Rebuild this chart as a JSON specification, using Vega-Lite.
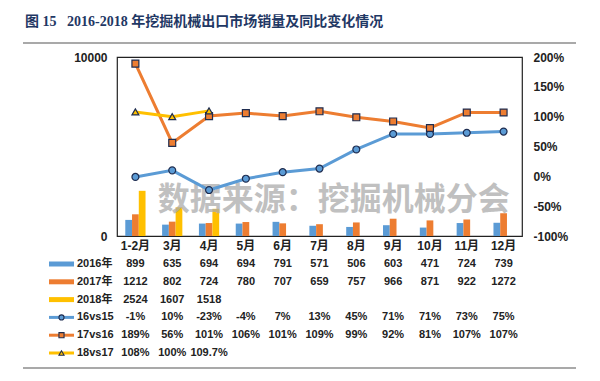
{
  "$schema": "https://vega.github.io/schema/vega-lite/v6.json",
  "width": 405,
  "height": 179,
  "autosize": {"type": "none"},
  "padding": {"left": 117, "top": 57, "right": 78, "bottom": 145},
  "background": "white",
  "title": {
    "text": "图 15\u00a0\u00a0\u00a02016-2018 年挖掘机械出口市场销量及同比变化情况",
    "anchor": "start",
    "frame": "group",
    "dx": -92,
    "offset": 13,
    "font": "Liberation Serif, Noto Sans CJK SC",
    "fontWeight": "bold",
    "fontSize": 14,
    "color": "#1F3864"
  },
  "datasets": {
    "d": [
      {"m": "1-2月", "s": "2016年", "v": 899}, {"m": "3月", "s": "2016年", "v": 635}, {"m": "4月", "s": "2016年", "v": 694},
      {"m": "5月", "s": "2016年", "v": 694}, {"m": "6月", "s": "2016年", "v": 791}, {"m": "7月", "s": "2016年", "v": 571},
      {"m": "8月", "s": "2016年", "v": 506}, {"m": "9月", "s": "2016年", "v": 603}, {"m": "10月", "s": "2016年", "v": 471},
      {"m": "11月", "s": "2016年", "v": 724}, {"m": "12月", "s": "2016年", "v": 739},
      {"m": "1-2月", "s": "2017年", "v": 1212}, {"m": "3月", "s": "2017年", "v": 802}, {"m": "4月", "s": "2017年", "v": 724},
      {"m": "5月", "s": "2017年", "v": 780}, {"m": "6月", "s": "2017年", "v": 707}, {"m": "7月", "s": "2017年", "v": 659},
      {"m": "8月", "s": "2017年", "v": 757}, {"m": "9月", "s": "2017年", "v": 966}, {"m": "10月", "s": "2017年", "v": 871},
      {"m": "11月", "s": "2017年", "v": 922}, {"m": "12月", "s": "2017年", "v": 1272},
      {"m": "1-2月", "s": "2018年", "v": 2524}, {"m": "3月", "s": "2018年", "v": 1607}, {"m": "4月", "s": "2018年", "v": 1518},
      {"m": "1-2月", "s": "16vs15", "v": -0.01}, {"m": "3月", "s": "16vs15", "v": 0.10}, {"m": "4月", "s": "16vs15", "v": -0.23},
      {"m": "5月", "s": "16vs15", "v": -0.04}, {"m": "6月", "s": "16vs15", "v": 0.07}, {"m": "7月", "s": "16vs15", "v": 0.13},
      {"m": "8月", "s": "16vs15", "v": 0.45}, {"m": "9月", "s": "16vs15", "v": 0.71}, {"m": "10月", "s": "16vs15", "v": 0.71},
      {"m": "11月", "s": "16vs15", "v": 0.73}, {"m": "12月", "s": "16vs15", "v": 0.75},
      {"m": "1-2月", "s": "17vs16", "v": 1.89}, {"m": "3月", "s": "17vs16", "v": 0.56}, {"m": "4月", "s": "17vs16", "v": 1.01},
      {"m": "5月", "s": "17vs16", "v": 1.06}, {"m": "6月", "s": "17vs16", "v": 1.01}, {"m": "7月", "s": "17vs16", "v": 1.09},
      {"m": "8月", "s": "17vs16", "v": 0.99}, {"m": "9月", "s": "17vs16", "v": 0.92}, {"m": "10月", "s": "17vs16", "v": 0.81},
      {"m": "11月", "s": "17vs16", "v": 1.07}, {"m": "12月", "s": "17vs16", "v": 1.07},
      {"m": "1-2月", "s": "18vs17", "v": 1.08}, {"m": "3月", "s": "18vs17", "v": 1.00}, {"m": "4月", "s": "18vs17", "v": 1.097}
    ],
    "sym": [
      {"s": "2016年", "kind": "bar"}, {"s": "2017年", "kind": "bar"}, {"s": "2018年", "kind": "bar"},
      {"s": "16vs15", "kind": "line"}, {"s": "17vs16", "kind": "line"}, {"s": "18vs17", "kind": "line"}
    ]
  },
  "config": {
    "view": {"stroke": "#222", "strokeWidth": 1.2},
    "locale": {"number": {"decimal": ".", "thousands": ",", "grouping": [3], "currency": ["$", ""], "minus": "-"}},
    "axis": {
      "labelFont": "Liberation Sans, Noto Sans CJK SC",
      "labelFontWeight": "bold",
      "labelFontSize": 12,
      "labelColor": "#222",
      "grid": false,
      "domain": false,
      "ticks": false,
      "tickSize": 0,
      "title": null
    },
    "text": {"font": "Liberation Sans, Noto Sans CJK SC", "fontWeight": "bold", "fontSize": 11, "fill": "#222"}
  },
  "resolve": {"scale": {"x": "independent", "y": "independent"}},
  "layer": [
    {
      "data": {"values": [{"k": "separator"}]},
      "layer": [
        {
          "mark": {"type": "rule", "stroke": "#555", "strokeWidth": 1.2},
          "encoding": {
            "x": {"datum": 0, "type": "quantitative", "scale": {"domain": [0, 1], "range": [-94, 459], "nice": false, "zero": false}, "axis": null},
            "x2": {"datum": 1},
            "y": {"datum": 0, "type": "quantitative", "scale": {"domain": [0, 1], "range": [-14, 311], "nice": false, "zero": false}, "axis": null}
          }
        },
        {
          "mark": {"type": "rule", "stroke": "#555", "strokeWidth": 1.2},
          "encoding": {
            "x": {"datum": 0, "type": "quantitative"},
            "x2": {"datum": 1},
            "y": {"datum": 1, "type": "quantitative"}
          }
        }
      ]
    },
    {
      "layer": [
        {
          "data": {"name": "d"},
          "transform": [{"filter": {"field": "s", "oneOf": ["2016年", "2017年", "2018年"]}}],
          "mark": {"type": "bar"},
          "encoding": {
            "x": {
              "field": "m", "type": "nominal", "sort": null,
              "scale": {"domain": ["1-2月", "3月", "4月", "5月", "6月", "7月", "8月", "9月", "10月", "11月", "12月"], "paddingInner": 0.45, "paddingOuter": 0.225},
              "axis": {"orient": "bottom", "labelAngle": 0, "labelPadding": 4}
            },
            "xOffset": {"field": "s", "type": "nominal", "scale": {"domain": ["2016年", "2017年", "2018年"], "paddingInner": 0, "paddingOuter": 0}},
            "y": {
              "field": "v", "type": "quantitative",
              "scale": {"domain": [0, 10000], "nice": false},
              "axis": {"orient": "left", "values": [0, 10000], "format": "d", "labelPadding": 10}
            },
            "color": {
              "field": "s", "type": "nominal",
              "scale": {"domain": ["2016年", "2017年", "2018年", "16vs15", "17vs16", "18vs17"], "range": ["#5B9BD5", "#ED7D31", "#FFC000", "#5B9BD5", "#ED7D31", "#FFC000"]},
              "legend": null
            }
          }
        },
        {
          "data": {"values": [{"t": "数据来源：挖掘机械分会"}]},
          "mark": {"type": "text", "font": "Noto Sans CJK SC", "fontWeight": "bold", "fontSize": 32, "fill": "#ababab", "opacity": 0.75, "align": "center", "baseline": "middle"},
          "encoding": {
            "x": {"datum": "7月", "type": "nominal", "bandPosition": 1.2},
            "y": {"datum": 2000, "type": "quantitative"},
            "text": {"field": "t"}
          }
        }
      ]
    },
    {
      "data": {"name": "d"},
      "transform": [{"filter": {"field": "s", "oneOf": ["16vs15", "17vs16", "18vs17"]}}],
      "encoding": {
        "x": {
          "field": "m", "type": "nominal", "sort": null,
          "scale": {"domain": ["1-2月", "3月", "4月", "5月", "6月", "7月", "8月", "9月", "10月", "11月", "12月"], "paddingInner": 0.45, "paddingOuter": 0.225},
          "axis": null
        },
        "y": {
          "field": "v", "type": "quantitative",
          "scale": {"domain": [-1, 2], "nice": false},
          "axis": {"orient": "right", "values": [-1, -0.5, 0, 0.5, 1, 1.5, 2], "format": ".0%", "labelPadding": 11}
        },
        "color": {"field": "s", "type": "nominal", "legend": null}
      },
      "layer": [
        {"mark": {"type": "line", "strokeWidth": 3}},
        {
          "mark": {"type": "point", "filled": true, "stroke": "#1F2D50", "strokeWidth": 1.2, "opacity": 1, "size": 48},
          "encoding": {
            "shape": {"field": "s", "type": "nominal", "scale": {"domain": ["16vs15", "17vs16", "18vs17"], "range": ["circle", "square", "triangle-up"]}, "legend": null}
          }
        }
      ]
    },
    {
      "resolve": {"scale": {"x": "independent"}},
      "layer": [
        {
          "data": {"name": "d"},
          "transform": [{"filter": {"field": "s", "oneOf": ["2016年", "2017年", "2018年"]}}],
          "mark": {"type": "text"},
          "encoding": {
            "x": {"field": "m", "type": "nominal", "sort": null, "scale": {"domain": ["1-2月", "3月", "4月", "5月", "6月", "7月", "8月", "9月", "10月", "11月", "12月"], "paddingInner": 0.45, "paddingOuter": 0.225}, "axis": null},
            "y": {"field": "s", "type": "nominal", "scale": {"type": "point", "domain": ["2016年", "2017年", "2018年", "16vs15", "17vs16", "18vs17"], "range": [207, 296], "padding": 0}, "axis": null},
            "text": {"field": "v", "type": "quantitative", "format": "d"}
          }
        },
        {
          "data": {"name": "d"},
          "transform": [{"filter": {"field": "s", "oneOf": ["16vs15", "17vs16", "18vs17"]}}],
          "mark": {"type": "text"},
          "encoding": {
            "x": {"field": "m", "type": "nominal", "sort": null, "scale": {"domain": ["1-2月", "3月", "4月", "5月", "6月", "7月", "8月", "9月", "10月", "11月", "12月"], "paddingInner": 0.45, "paddingOuter": 0.225}, "axis": null},
            "y": {"field": "s", "type": "nominal"},
            "text": {"field": "v", "type": "quantitative", "format": ".1~%"}
          }
        },
        {
          "data": {"name": "sym"},
          "transform": [{"filter": {"field": "kind", "equal": "bar"}}],
          "mark": {"type": "rule", "strokeWidth": 5},
          "encoding": {
            "x": {"datum": 0, "type": "quantitative", "scale": {"domain": [0, 1], "range": [-68, -43], "nice": false, "zero": false}, "axis": null},
            "x2": {"datum": 1},
            "y": {"field": "s", "type": "nominal"},
            "color": {"field": "s", "type": "nominal", "legend": null}
          }
        },
        {
          "data": {"name": "sym"},
          "transform": [{"filter": {"field": "kind", "equal": "line"}}],
          "mark": {"type": "rule", "strokeWidth": 3},
          "encoding": {
            "x": {"datum": 0, "type": "quantitative", "scale": {"domain": [0, 1], "range": [-68, -43], "nice": false, "zero": false}, "axis": null},
            "x2": {"datum": 1},
            "y": {"field": "s", "type": "nominal"},
            "color": {"field": "s", "type": "nominal", "legend": null}
          }
        },
        {
          "data": {"name": "sym"},
          "transform": [{"filter": {"field": "kind", "equal": "line"}}],
          "mark": {"type": "point", "filled": true, "stroke": "#1F2D50", "strokeWidth": 1.1, "opacity": 1, "size": 26},
          "encoding": {
            "x": {"datum": 0.5, "type": "quantitative", "scale": {"domain": [0, 1], "range": [-68, -43], "nice": false, "zero": false}, "axis": null},
            "y": {"field": "s", "type": "nominal"},
            "color": {"field": "s", "type": "nominal", "legend": null},
            "shape": {"field": "s", "type": "nominal", "legend": null}
          }
        },
        {
          "data": {"name": "sym"},
          "mark": {"type": "text", "align": "left"},
          "encoding": {
            "x": {"datum": 1.12, "type": "quantitative", "scale": {"domain": [0, 1], "range": [-68, -43], "nice": false, "zero": false}, "axis": null},
            "y": {"field": "s", "type": "nominal"},
            "text": {"field": "s"}
          }
        }
      ]
    }
  ]
}
